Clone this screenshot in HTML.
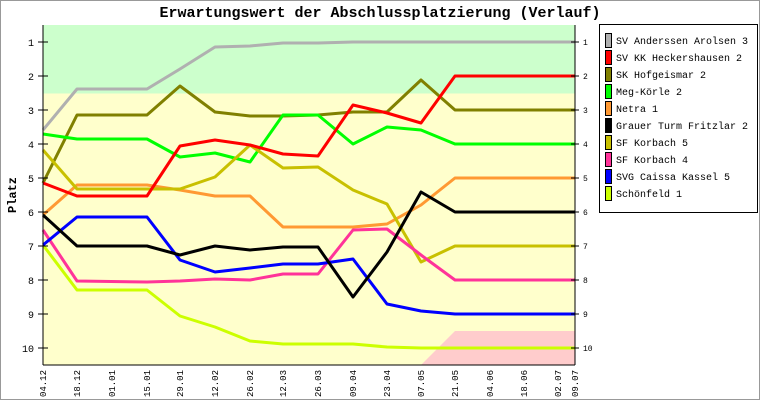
<!DOCTYPE html>
<html><head><meta charset="utf-8"><style>
html,body{margin:0;padding:0;background:#fff}
svg{display:block}
text{font-family:"Liberation Mono","DejaVu Sans Mono",monospace}
</style></head><body>
<svg width="760" height="400" viewBox="0 0 760 400" xmlns="http://www.w3.org/2000/svg">
<rect x="0.5" y="0.5" width="759" height="399" fill="#fff" stroke="#999"/>
<text x="380" y="17" font-size="15" font-weight="bold" text-anchor="middle">Erwartungswert der Abschlussplatzierung (Verlauf)</text>
<rect x="43" y="25" width="532" height="68.5" fill="#ccffcc"/>
<rect x="43" y="93.5" width="532" height="271.5" fill="#ffffcc"/>
<polygon points="421,365 455,331 575,331 575,365" fill="#ffcccc"/>
<g fill="none" stroke-width="3" stroke-linejoin="round">
<polyline stroke="#b0b0b0" points="43,130 77,89 147,89 180,69 215,47 250,46 283,43 318,43 353,42 575,42"/>
<polyline stroke="#808000" points="43,183 77,115 147,115 180,86 215,112 250,116 283,116 318,115 353,112 387,112 421,80 455,110 575,110"/>
<polyline stroke="#00ff00" points="43,134 77,139 147,139 180,157 215,153 250,162 283,115 318,115 353,144 387,127 421,130 455,144 575,144"/>
<polyline stroke="#ff9933" points="43,215 77,185 147,185 180,190 215,196 250,196 283,227 318,227 353,227 387,224 421,205 455,178 575,178"/>
<polyline stroke="#c8c000" points="43,150 77,189 147,189 180,189 215,177 250,145 283,168 318,167 353,190 387,204 421,262 455,246 575,246"/>
<polyline stroke="#ff3399" points="43,230 77,281 147,282 180,281 215,279 250,280 283,274 318,274 353,230 387,229 421,255 455,280 575,280"/>
<polyline stroke="#ccff00" points="43,245 77,290 147,290 180,316 215,327 250,341 283,344 318,344 353,344 387,347 421,348 575,348"/>
<polyline stroke="#0000ff" points="43,245 77,217 147,217 180,260 215,272 250,268 283,264 318,264 353,259 387,304 421,311 455,314 575,314"/>
<polyline stroke="#000000" points="43,215 77,246 147,246 180,255 215,246 250,250 283,247 318,247 353,297 387,252 421,192 455,212 575,212"/>
<polyline stroke="#ff0000" points="43,183 77,196 147,196 180,146 215,140 250,145 283,154 318,156 353,105 387,113 421,123 455,76 575,76"/>
</g>
<g stroke="#000" stroke-width="1">
<line x1="43" y1="25" x2="43" y2="365"/><line x1="575" y1="25" x2="575" y2="365"/><line x1="43" y1="365" x2="575" y2="365"/>
</g>
<g stroke="#000" font-size="9">
<path d="M38 42h10M38 76h10M38 110h10M38 144h10M38 178h10M38 212h10M38 246h10M38 280h10M38 314h10M38 348h10M571 42h8M571 76h8M571 110h8M571 144h8M571 178h8M571 212h8M571 246h8M571 280h8M571 314h8M571 348h8"/>
</g>
<g font-size="10" text-anchor="end">
<text x="34" y="46">1</text><text x="34" y="80">2</text><text x="34" y="114">3</text><text x="34" y="148">4</text><text x="34" y="182">5</text><text x="34" y="216">6</text><text x="34" y="250">7</text><text x="34" y="284">8</text><text x="34" y="318">9</text><text x="34" y="352">10</text>
</g>
<g font-size="8">
<text x="583" y="45">1</text><text x="583" y="79">2</text><text x="583" y="113">3</text><text x="583" y="147">4</text><text x="583" y="181">5</text><text x="583" y="215">6</text><text x="583" y="249">7</text><text x="583" y="283">8</text><text x="583" y="317">9</text><text x="583" y="351">10</text>
</g>
<text transform="translate(16,195) rotate(-90)" font-size="12" font-weight="bold" text-anchor="middle">Platz</text>
<g font-size="9" text-anchor="end">
<text transform="translate(46,370) rotate(-90)">04.12</text>
<text transform="translate(80,370) rotate(-90)">18.12</text>
<text transform="translate(115,370) rotate(-90)">01.01</text>
<text transform="translate(150,370) rotate(-90)">15.01</text>
<text transform="translate(183,370) rotate(-90)">29.01</text>
<text transform="translate(218,370) rotate(-90)">12.02</text>
<text transform="translate(253,370) rotate(-90)">26.02</text>
<text transform="translate(286,370) rotate(-90)">12.03</text>
<text transform="translate(321,370) rotate(-90)">26.03</text>
<text transform="translate(356,370) rotate(-90)">09.04</text>
<text transform="translate(390,370) rotate(-90)">23.04</text>
<text transform="translate(424,370) rotate(-90)">07.05</text>
<text transform="translate(458,370) rotate(-90)">21.05</text>
<text transform="translate(493,370) rotate(-90)">04.06</text>
<text transform="translate(527,370) rotate(-90)">18.06</text>
<text transform="translate(561,370) rotate(-90)">02.07</text>
<text transform="translate(578,370) rotate(-90)">09.07</text>
</g>
<rect x="599.5" y="24.5" width="158" height="188" fill="#fff" stroke="#000"/>
<g stroke="#000" stroke-width="1">
<rect x="605.5" y="33.5" width="6" height="14" fill="#b0b0b0"/>
<rect x="605.5" y="50.5" width="6" height="14" fill="#ff0000"/>
<rect x="605.5" y="67.5" width="6" height="14" fill="#808000"/>
<rect x="605.5" y="84.5" width="6" height="14" fill="#00ff00"/>
<rect x="605.5" y="101.5" width="6" height="14" fill="#ff9933"/>
<rect x="605.5" y="118.5" width="6" height="14" fill="#000000"/>
<rect x="605.5" y="135.5" width="6" height="14" fill="#c8c000"/>
<rect x="605.5" y="152.5" width="6" height="14" fill="#ff3399"/>
<rect x="605.5" y="169.5" width="6" height="14" fill="#0000ff"/>
<rect x="605.5" y="186.5" width="6" height="14" fill="#ccff00"/>
</g>
<g font-size="10">
<text x="616" y="44">SV Anderssen Arolsen 3</text>
<text x="616" y="61">SV KK Heckershausen 2</text>
<text x="616" y="78">SK Hofgeismar 2</text>
<text x="616" y="95">Meg-Körle 2</text>
<text x="616" y="112">Netra 1</text>
<text x="616" y="129">Grauer Turm Fritzlar 2</text>
<text x="616" y="146">SF Korbach 5</text>
<text x="616" y="163">SF Korbach 4</text>
<text x="616" y="180">SVG Caissa Kassel 5</text>
<text x="616" y="197">Schönfeld 1</text>
</g>
</svg>
</body></html>
